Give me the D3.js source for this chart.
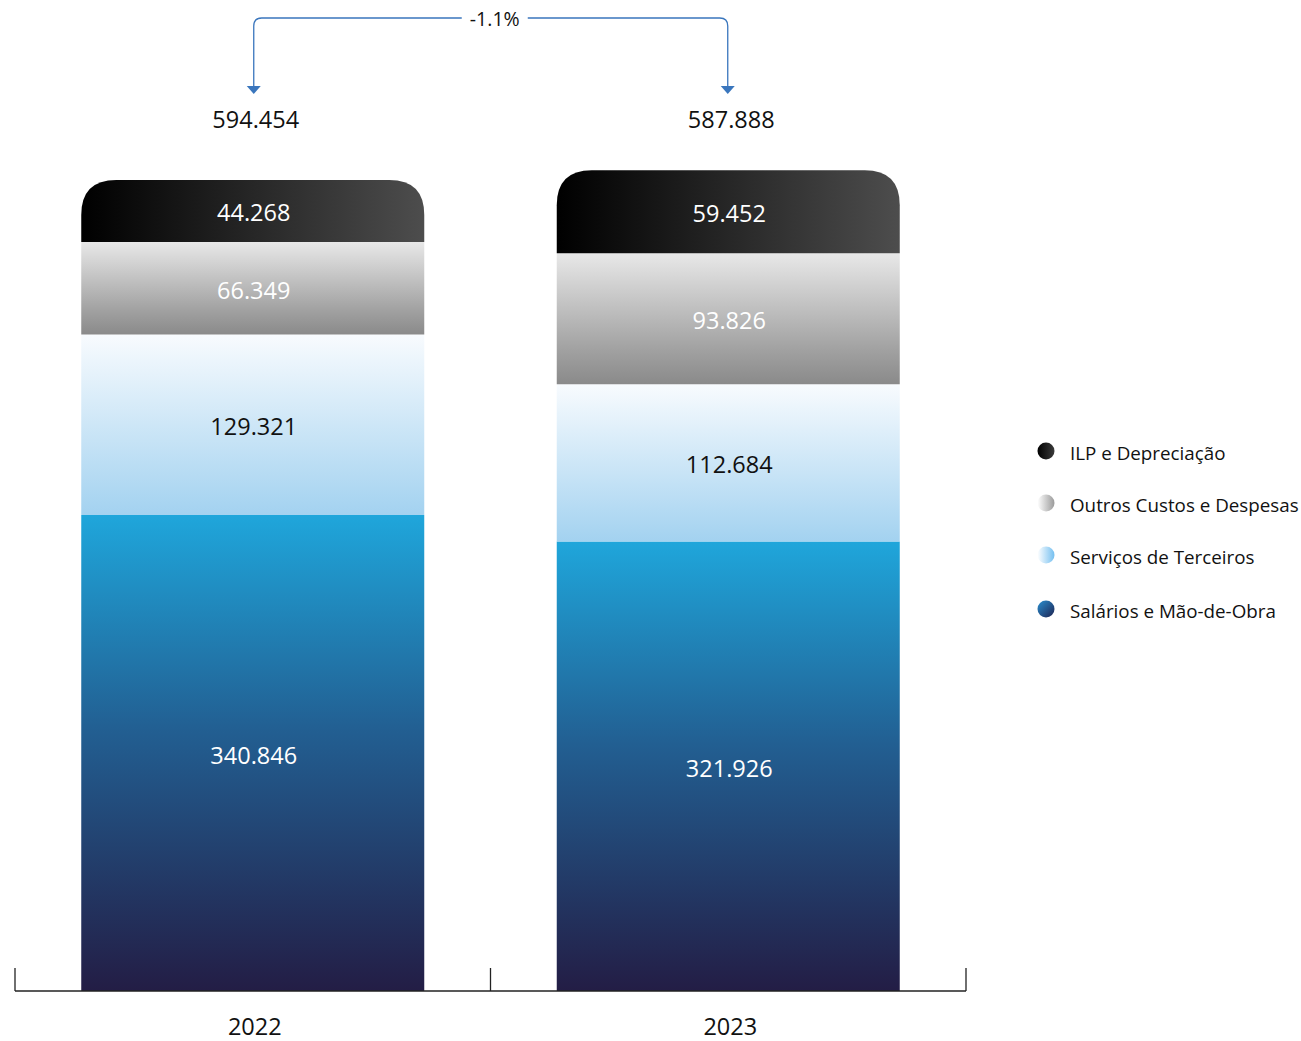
<!DOCTYPE html>
<html>
<head>
<meta charset="utf-8">
<script src="https://cdn.jsdelivr.net/npm/d3@7"></script>
<style>
  html, body { margin: 0; padding: 0; background: #fff; }
  svg { display: block; font-family: "Open Sans", "Noto Sans", sans-serif; }
</style>
</head>
<body>
<svg id="chart" width="1301" height="1041"></svg>
<script>
// Custos e despesas por ano (R$ mil)
const years = ["2022", "2023"];
const seriesNames = ["Salários e Mão-de-Obra", "Serviços de Terceiros", "Outros Custos e Despesas", "ILP e Depreciação"];
const salarios = [340.846, 321.926];
const servicos = [129.321, 112.684];
const outros = [66.349, 93.826];
const ilp = [44.268, 59.452];
const totals = [594.454, 587.888];
const totalLabels = ["594.454", "587.888"];
const segmentLabels = [
  ["340.846", "129.321", "66.349", "44.268"],
  ["321.926", "112.684", "93.826", "59.452"]
];
const variationLabel = "-1.1%";
const legendOrder = ["ILP e Depreciação", "Outros Custos e Despesas", "Serviços de Terceiros", "Salários e Mão-de-Obra"];

const svg = d3.select("#chart");
const defs = svg.append("defs");

// gradients per series
function linGrad(id, x2, y2, stops) {
  const g = defs.append("linearGradient").attr("id", id)
    .attr("x1", 0).attr("y1", 0).attr("x2", x2).attr("y2", y2);
  stops.forEach(s => g.append("stop").attr("offset", s[0]).attr("stop-color", s[1]));
}
linGrad("g-sal", 0, 1, [[0, "#1fa6db"], [0.45, "#225f92"], [1, "#231d45"]]);
linGrad("g-ser", 0, 1, [[0, "#f8fbfe"], [1, "#a3d2f0"]]);
linGrad("g-out", 0, 1, [[0, "#e8e8e8"], [0.75, "#a0a0a0"], [1, "#8a8a8a"]]);
linGrad("g-ilp", 1, 0, [[0, "#000000"], [1, "#4d4d4d"]]);
// legend dots
linGrad("l-ilp", 1, 0, [[0, "#000000"], [1, "#3a3a3a"]]);
linGrad("l-out", 1, 0, [[0, "#ffffff"], [1, "#9a9a9a"]]);
linGrad("l-ser", 1, 0, [[0, "#ffffff"], [1, "#74bff0"]]);
linGrad("l-sal", 1, 1, [[0, "#2a8fd0"], [1, "#1d2250"]]);

const fills = ["url(#g-sal)", "url(#g-ser)", "url(#g-out)", "url(#g-ilp)"];
const labelColors = ["#ffffff", "#111111", "#ffffff", "#ffffff"];
const legendFills = {
  "ILP e Depreciação": "url(#l-ilp)",
  "Outros Custos e Despesas": "url(#l-out)",
  "Serviços de Terceiros": "url(#l-ser)",
  "Salários e Mão-de-Obra": "url(#l-sal)"
};

const x = d3.scaleBand().domain(years).range([15, 966]).padding(0);
const barW = 343;
const y = d3.scaleLinear().domain([0, d3.max(totals)]).range([991, 161]);
const radius = 35;

const rows = years.map((yr, i) => ({
  year: yr,
  values: [salarios[i], servicos[i], outros[i], ilp[i]],
  labels: segmentLabels[i]
}));

rows.forEach((row, i) => {
  const cx = x(row.year) + x.bandwidth() / 2;
  const x0 = cx - barW / 2, x1 = cx + barW / 2;
  let acc = 0;
  const g = svg.append("g");
  row.values.forEach((v, k) => {
    const yb = y(acc), yt = y(acc + v);
    acc += v;
    const isTop = k === row.values.length - 1;
    let p;
    if (isTop) {
      const r = Math.min(radius, (yb - yt));
      p = `M${x0},${yb}L${x0},${yt + r}Q${x0},${yt} ${x0 + r},${yt}L${x1 - r},${yt}Q${x1},${yt} ${x1},${yt + r}L${x1},${yb}Z`;
    } else {
      p = `M${x0},${yb}L${x0},${yt}L${x1},${yt}L${x1},${yb}Z`;
    }
    g.append("path").attr("d", p).attr("fill", fills[k]);
    g.append("text")
      .attr("x", cx + 1).attr("y", (yb + yt) / 2 + 2)
      .attr("dy", "0.36em")
      .attr("text-anchor", "middle")
      .attr("font-size", 23.5)
      .attr("fill", labelColors[k])
      .text(row.labels[k]);
  });
  // total above the stack
  svg.append("text")
    .attr("x", cx + 3).attr("y", y(d3.max(totals)) - 33)
    .attr("text-anchor", "middle")
    .attr("font-size", 23.5)
    .attr("fill", "#111")
    .text(totalLabels[i]);
  // year label
  svg.append("text")
    .attr("x", cx + 2).attr("y", 1035)
    .attr("text-anchor", "middle")
    .attr("font-size", 23.5)
    .attr("fill", "#111")
    .text(row.year);
});

// category axis: baseline with separators at band edges
const axisY = y(0);
const axisG = svg.append("g").attr("stroke", "#222").attr("stroke-width", 1.3);
axisG.append("line").attr("x1", x.range()[0]).attr("x2", x.range()[1])
  .attr("y1", axisY).attr("y2", axisY);
const edges = years.map(d => x(d)).concat([x.range()[1]]);
edges.forEach(e => axisG.append("line")
  .attr("x1", e).attr("x2", e).attr("y1", axisY - 23).attr("y2", axisY));

// variation bracket between totals
const bx0 = x(years[0]) + x.bandwidth() / 2 + 1;
const bx1 = x(years[1]) + x.bandwidth() / 2 - 0.5;
const bTop = 18, bBot = 88, cr = 8;
const blue = "#3a76bd";
const mid = (bx0 + bx1) / 2 + 4;
const gap = 33;
const bracket = svg.append("g").attr("fill", "none").attr("stroke", blue).attr("stroke-width", 1.3);
bracket.append("path")
  .attr("d", `M${bx0},${bBot}L${bx0},${bTop + cr}Q${bx0},${bTop} ${bx0 + cr},${bTop}L${mid - gap},${bTop}`);
bracket.append("path")
  .attr("d", `M${mid + gap},${bTop}L${bx1 - cr},${bTop}Q${bx1},${bTop} ${bx1},${bTop + cr}L${bx1},${bBot}`);
[bx0, bx1].forEach(bx => svg.append("path")
  .attr("d", `M${bx - 7},${bBot - 2}L${bx + 7},${bBot - 2}L${bx},${bBot + 6}Z`)
  .attr("fill", blue));
svg.append("text")
  .attr("x", mid).attr("y", bTop + 1).attr("dy", "0.36em")
  .attr("text-anchor", "middle").attr("font-size", 19.5).attr("fill", "#111")
  .text(variationLabel);

// legend
const legend = svg.append("g").attr("transform", "translate(1046,452)");
legendOrder.forEach((name, i) => {
  const gy = [0, 52, 104, 158][i];
  legend.append("circle").attr("cx", 0).attr("cy", gy - 1).attr("r", 8.5).attr("fill", legendFills[name]);
  legend.append("text").attr("x", 24).attr("y", gy + 1).attr("dy", "0.36em")
    .attr("font-size", 18.8).attr("fill", "#111").text(name);
});
</script>
</body>
</html>
